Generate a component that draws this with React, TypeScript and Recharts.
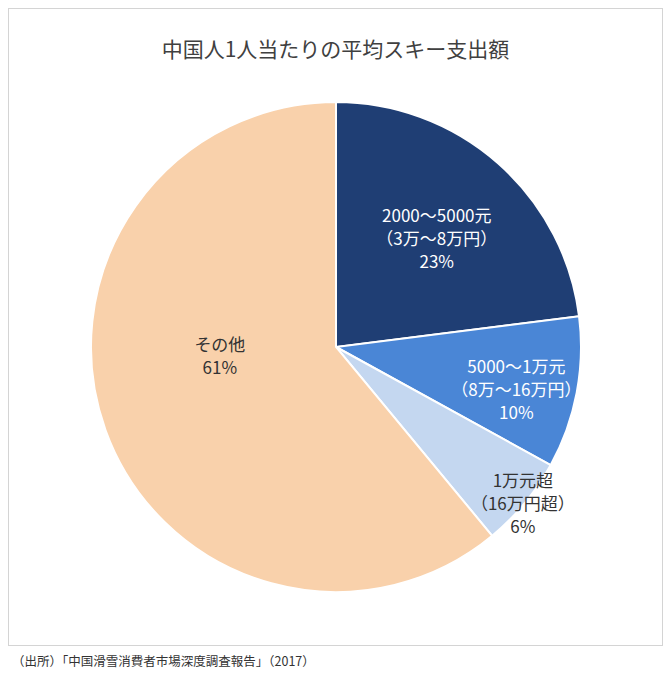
import { PieChart, Pie, Cell } from 'recharts';

const categories = [
  ['2000～5000元', '（3万～8万円）'],
  ['5000～1万元', '（8万～16万円）'],
  ['1万元超', '（16万円超）'],
  ['その他'],
];
const shares = [23, 10, 6, 61];
const colors = ['#1F3E74', '#4A86D6', '#C4D7F0', '#F9D1AB'];
const textColors = ['#ffffff', '#ffffff', '#333333', '#333333'];

// label placement tweaks (fraction of radius, angle shift in degrees)
const labelFrac = [0.61, 0.755, 0.99, 0.475];
const labelShift = [-1, -2, 0, -16];

const data = shares.map((value, i) => ({ name: categories[i].join(''), value }));

const FONT = '"Noto Sans CJK JP", "Noto Sans", sans-serif';
const RADIAN = Math.PI / 180;

function renderLabel(props: any) {
  const { cx, cy, midAngle, outerRadius, index } = props;
  const r = outerRadius * labelFrac[index];
  const a = (midAngle + labelShift[index]) * RADIAN;
  const x = cx + r * Math.cos(-a);
  const y = cy + r * Math.sin(-a);
  const lines = [...categories[index], `${shares[index]}%`];
  const lh = 23;
  const y0 = y - ((lines.length - 1) * lh) / 2;
  return (
    <text
      x={x}
      y={y0}
      fill={textColors[index]}
      textAnchor="middle"
      dominantBaseline="central"
      fontSize={17}
      fontFamily={FONT}
    >
      {lines.map((l, i) => (
        <tspan key={i} x={x} y={y0 + i * lh}>
          {l}
        </tspan>
      ))}
    </text>
  );
}

export default function App() {
  return (
    <div
      style={{
        position: 'absolute',
        left: 0,
        top: 0,
        width: 671,
        height: 680,
        background: '#fff',
        fontFamily: FONT,
      }}
    >
      <div
        style={{
          position: 'absolute',
          left: 8,
          top: 8,
          width: 653,
          height: 636,
          border: '1px solid #d4d4d4',
        }}
      />
      <div
        style={{
          position: 'absolute',
          left: 0,
          top: 34,
          width: 671,
          textAlign: 'center',
          fontSize: 21,
          color: '#404040',
          lineHeight: '28px',
        }}
      >
        中国人1人当たりの平均スキー支出額
      </div>
      <div style={{ position: 'absolute', left: 0, top: 0 }}>
        <PieChart width={671} height={680} margin={{ top: 0, right: 0, bottom: 0, left: 0 }}>
          <Pie
            data={data}
            dataKey="value"
            cx={336}
            cy={347}
            outerRadius={245}
            startAngle={90}
            endAngle={-270}
            stroke="#ffffff"
            strokeWidth={2}
            label={renderLabel}
            labelLine={false}
            isAnimationActive={false}
          >
            {data.map((d, i) => (
              <Cell key={d.name} fill={colors[i]} />
            ))}
          </Pie>
        </PieChart>
      </div>
      <div
        style={{
          position: 'absolute',
          left: 12,
          top: 652,
          fontSize: 12.5,
          color: '#333',
          lineHeight: '18px',
        }}
      >
        （出所）「中国滑雪消費者市場深度調査報告」（2017）
      </div>
    </div>
  );
}
